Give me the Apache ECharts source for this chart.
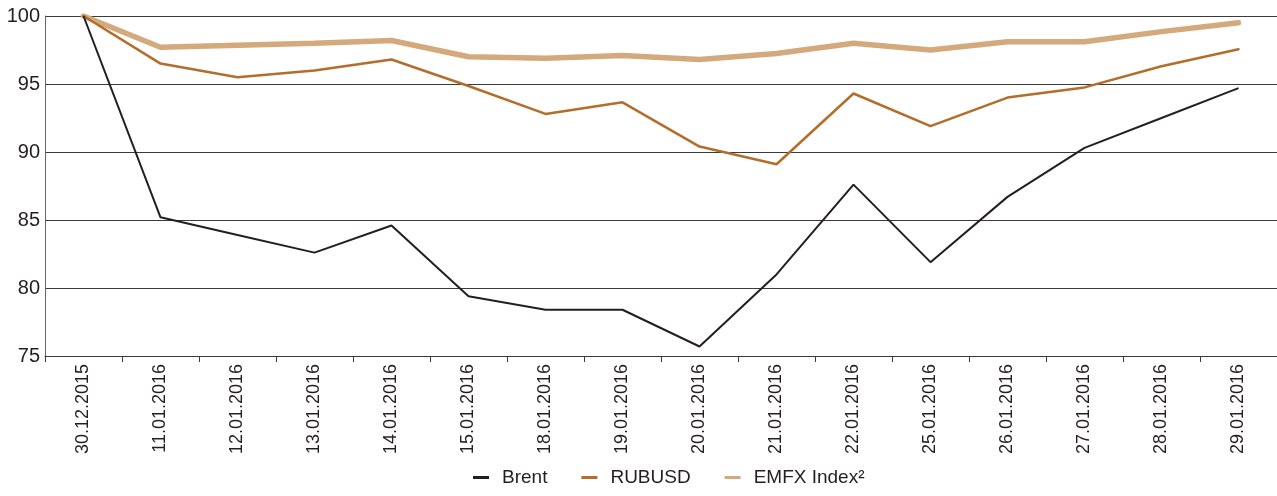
<!DOCTYPE html>
<html>
<head>
<meta charset="utf-8">
<script src="https://cdn.jsdelivr.net/npm/echarts@6/dist/echarts.min.js"></script>
<style>
  html, body { margin: 0; padding: 0; background: #fff; }
  #chart { width: 1277px; height: 496px; }
</style>
</head>
<body>
<div id="chart"></div>
<script>
var dates = ["30.12.2015","11.01.2016","12.01.2016","13.01.2016","14.01.2016","15.01.2016","18.01.2016","19.01.2016",
             "20.01.2016","21.01.2016","22.01.2016","25.01.2016","26.01.2016","27.01.2016","28.01.2016","29.01.2016"];
var brent  = [100, 85.2, 83.9, 82.6, 84.6, 79.4, 78.4, 78.4, 75.7, 81.0, 87.6, 81.9, 86.7, 90.3, 92.5, 94.7];
var rubusd = [100, 96.5, 95.5, 96.0, 96.8, 94.85, 92.8, 93.65, 90.4, 89.1, 94.3, 91.9, 94.0, 94.75, 96.3, 97.55];
var emfx   = [100, 97.7, 97.85, 98.0, 98.2, 97.0, 96.9, 97.1, 96.8, 97.25, 98.0, 97.5, 98.1, 98.1, 98.85, 99.5];
var yTicks = [75, 80, 85, 90, 95, 100];

(function(){
    var myChart = echarts.init(document.getElementById('chart'));
    var sans = '"Liberation Sans", Arial, sans-serif';
    var option = {
        backgroundColor: '#fff',
        animation: false,
        grid: {
            left: 45,
            right: 0,
            top: 16,
            bottom: 140
        },
        legend: {
            bottom: 4,
            left: 468,
            icon: 'rect',
            itemWidth: 16,
            itemHeight: 3,
            itemGap: 34,
            textStyle: {
                fontFamily: sans,
                fontSize: 19,
                color: '#231f20',
                padding: [0, 0, 0, 8]
            },
            data: ['Brent', 'RUBUSD', {name: 'EMFX Index²', itemStyle: {}, icon: 'rect'}]
        },
        xAxis: {
            type: 'category',
            data: dates,
            boundaryGap: true,
            axisLine: {
                show: true,
                lineStyle: { color: '#3a3a3a', width: 1 }
            },
            axisTick: {
                show: true,
                length: 6,
                lineStyle: { color: '#3a3a3a' }
            },
            axisLabel: {
                interval: 0,
                rotate: 90,
                margin: 8,
                fontFamily: sans,
                fontSize: 18,
                color: '#231f20'
            }
        },
        yAxis: {
            type: 'value',
            min: yTicks[0],
            max: yTicks[yTicks.length - 1],
            interval: 5,
            axisLine: {
                show: true,
                lineStyle: { color: '#666', width: 1 }
            },
            axisTick: { show: false },
            splitLine: {
                show: true,
                lineStyle: { color: '#3a3a3a', width: 1 }
            },
            axisLabel: {
                margin: 5,
                fontFamily: sans,
                fontSize: 20,
                color: '#231f20'
            }
        },
        series: [{
            name: 'EMFX Index²',
            type: 'line',
            data: emfx,
            symbol: 'none',
            color: '#d4a97b',
            lineStyle: { width: 5.5, color: '#d4a97b', cap: 'round' }
        }, {
            name: 'RUBUSD',
            type: 'line',
            data: rubusd,
            symbol: 'none',
            color: '#b26e2a',
            lineStyle: { width: 2.5, color: '#b26e2a', cap: 'round' }
        }, {
            name: 'Brent',
            type: 'line',
            data: brent,
            symbol: 'none',
            color: '#231f20',
            lineStyle: { width: 2, color: '#231f20' }
        }]
    };
    myChart.setOption(option);
    window.addEventListener('resize', function() {
        myChart.resize();
    })
})();
</script>
</body>
</html>
